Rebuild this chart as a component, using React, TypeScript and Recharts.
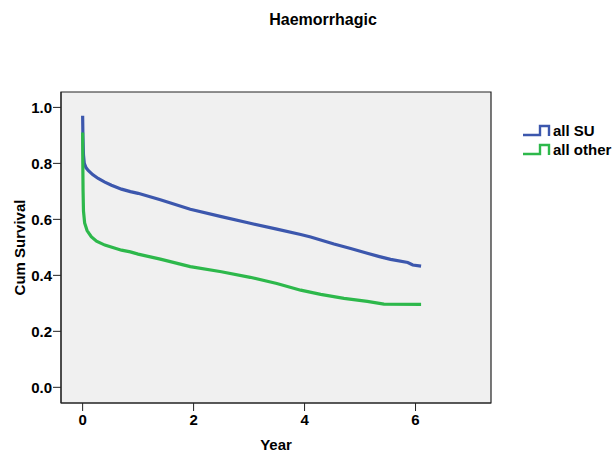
import { LineChart, Line, XAxis, YAxis, Legend, ReferenceArea } from "recharts";

const suYears = [0, 0.005, 0.015, 0.03, 0.06, 0.1, 0.18, 0.28, 0.4, 0.52, 0.7, 0.86, 1.0, 1.4, 1.94, 2.5, 3.02, 3.5, 3.93, 4.11, 4.53, 4.83, 5.13, 5.35, 5.55, 5.86, 5.95, 6.1];
const suSurvival = [0.97, 0.9, 0.83, 0.8, 0.785, 0.775, 0.76, 0.746, 0.733, 0.722, 0.708, 0.699, 0.693, 0.67, 0.636, 0.61, 0.586, 0.565, 0.546, 0.537, 0.512, 0.496, 0.479, 0.467, 0.457, 0.446, 0.437, 0.433];

const otherYears = [0, 0.003, 0.008, 0.015, 0.036, 0.08, 0.155, 0.25, 0.4, 0.7, 0.86, 1.0, 1.4, 1.94, 2.5, 3.02, 3.5, 3.93, 4.29, 4.71, 5.13, 5.43, 6.1];
const otherSurvival = [0.91, 0.8, 0.7, 0.63, 0.587, 0.56, 0.538, 0.522, 0.508, 0.49, 0.484, 0.476, 0.458, 0.431, 0.413, 0.393, 0.371, 0.347, 0.332, 0.318, 0.307, 0.297, 0.296];

const xTicks = [0, 2, 4, 6];
const yTicks = [0, 0.2, 0.4, 0.6, 0.8, 1.0];

const X_DOMAIN: [number, number] = [-0.39, 7.36];
const Y_DOMAIN: [number, number] = [-0.056, 1.055];

const BLUE = "#3c57ad";
const GREEN = "#2db84b";
const FONT = "'Liberation Sans', Arial, sans-serif";

const suData = suYears.map((x, i) => ({ x, y: suSurvival[i] }));
const otherData = otherYears.map((x, i) => ({ x, y: otherSurvival[i] }));

const series = [
  { name: "all SU", color: BLUE },
  { name: "all other", color: GREEN },
];

const tickStyle = { fontFamily: FONT, fontSize: 15, fontWeight: 700, fill: "#000" };

const StepIcon = ({ color }: { color: string }) => (
  <svg width={28} height={15} style={{ display: "block" }}>
    <path d="M0,12 H17 V3 H26 V13" fill="none" stroke={color} strokeWidth={2.4} />
  </svg>
);

const LegendBox = () => (
  <div style={{ fontFamily: FONT, fontSize: 15, fontWeight: 700, color: "#000" }}>
    {series.map((s) => (
      <div key={s.name} style={{ display: "flex", alignItems: "flex-end", height: 19 }}>
        <StepIcon color={s.color} />
        <span style={{ marginLeft: 2, lineHeight: "15px" }}>{s.name}</span>
      </div>
    ))}
  </div>
);

export default function App() {
  return (
    <div style={{ position: "absolute", left: 0, top: 0, width: 616, height: 460, background: "#fff" }}>
      <LineChart width={616} height={460} margin={{ top: 92, right: 125, bottom: 0, left: 0 }}>
        <text x={323} y={25} textAnchor="middle" style={{ fontFamily: FONT, fontSize: 16, fontWeight: 700 }}>
          Haemorrhagic
        </text>
        <XAxis
          type="number"
          dataKey="x"
          domain={X_DOMAIN}
          ticks={xTicks}
          allowDataOverflow
          height={57}
          tickSize={8}
          tickMargin={3}
          tick={tickStyle}
          axisLine={{ stroke: "#222" }}
          tickLine={{ stroke: "#222" }}
          label={{
            content: ({ viewBox }: any) => (
              <text x={viewBox.x + viewBox.width / 2} y={450} textAnchor="middle" style={{ fontFamily: FONT, fontSize: 15, fontWeight: 700 }}>
                Year
              </text>
            ),
          }}
        />
        <YAxis
          type="number"
          dataKey="y"
          domain={Y_DOMAIN}
          ticks={yTicks}
          allowDataOverflow
          width={61}
          tickSize={8}
          tickMargin={1}
          tick={tickStyle}
          tickFormatter={(v: number) => v.toFixed(1)}
          axisLine={{ stroke: "#222" }}
          tickLine={{ stroke: "#222" }}
          label={{
            content: ({ viewBox }: any) => {
              const cy = viewBox.y + viewBox.height / 2;
              return (
                <text x={25} y={cy} textAnchor="middle" transform={`rotate(-90 25 ${cy})`} style={{ fontFamily: FONT, fontSize: 15, fontWeight: 700 }}>
                  Cum Survival
                </text>
              );
            },
          }}
        />
        <ReferenceArea x1={X_DOMAIN[0]} x2={X_DOMAIN[1]} y1={Y_DOMAIN[0]} y2={Y_DOMAIN[1]} fill="#f0f0f0" fillOpacity={1} stroke="#222" strokeWidth={1.2} />
        <Legend
          layout="horizontal"
          align="center"
          verticalAlign="middle"
          content={() => <LegendBox />}
          wrapperStyle={{ position: "absolute", left: 523, top: 119, width: 93 }}
        />
        <Line data={suData} dataKey="y" name="all SU" type="linear" stroke={BLUE} strokeWidth={3.2} dot={false} isAnimationActive={false} />
        <Line data={otherData} dataKey="y" name="all other" type="linear" stroke={GREEN} strokeWidth={3.2} dot={false} isAnimationActive={false} />
      </LineChart>
    </div>
  );
}
